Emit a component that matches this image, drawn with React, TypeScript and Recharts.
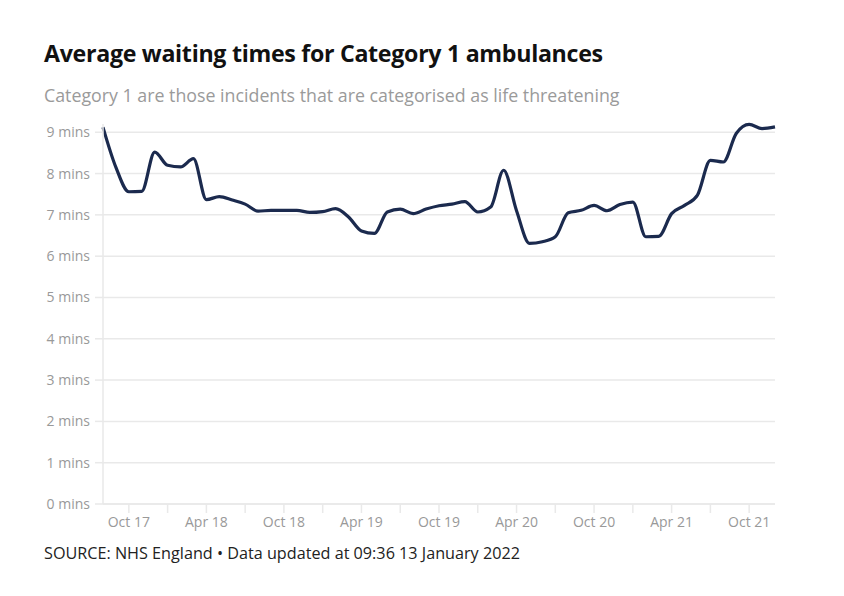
import React from "react";
import { Line, LineChart, ReferenceLine, XAxis, YAxis } from "recharts";

// monthly series, Aug 2017 to Dec 2021
const months = [
  "Aug 17", "Sep 17", "Oct 17", "Nov 17", "Dec 17",
  "Jan 18", "Feb 18", "Mar 18", "Apr 18", "May 18", "Jun 18", "Jul 18", "Aug 18", "Sep 18", "Oct 18", "Nov 18", "Dec 18",
  "Jan 19", "Feb 19", "Mar 19", "Apr 19", "May 19", "Jun 19", "Jul 19", "Aug 19", "Sep 19", "Oct 19", "Nov 19", "Dec 19",
  "Jan 20", "Feb 20", "Mar 20", "Apr 20", "May 20", "Jun 20", "Jul 20", "Aug 20", "Sep 20", "Oct 20", "Nov 20", "Dec 20",
  "Jan 21", "Feb 21", "Mar 21", "Apr 21", "May 21", "Jun 21", "Jul 21", "Aug 21", "Sep 21", "Oct 21", "Nov 21", "Dec 21",
];

const waitMins = [
  9.12, 8.15, 7.56, 7.57, 8.52,
  8.2, 8.16, 8.36, 7.37, 7.44, 7.36, 7.26, 7.09, 7.11, 7.11, 7.11, 7.06,
  7.08, 7.15, 6.95, 6.61, 6.55, 7.07, 7.14, 7.03, 7.14, 7.22, 7.26, 7.32,
  7.07, 7.19, 8.08, 7.1, 6.31, 6.35, 6.47, 7.05, 7.11, 7.23, 7.1, 7.25,
  7.31, 6.47, 6.48, 7.03, 7.23, 7.48, 8.32, 8.28, 8.97, 9.19, 9.09, 9.13,
];

// quarterly tick marks, labels only on Apr / Oct
const tickMonths = [
  "Oct 17", "Jan 18", "Apr 18", "Jul 18", "Oct 18", "Jan 19", "Apr 19", "Jul 19", "Oct 19",
  "Jan 20", "Apr 20", "Jul 20", "Oct 20", "Jan 21", "Apr 21", "Jul 21", "Oct 21",
];
const yTicks = [0, 1, 2, 3, 4, 5, 6, 7, 8, 9];

const data = months.map((m, i) => ({ i, month: m, mins: waitMins[i] }));
const tickIdx = tickMonths.map((m) => months.indexOf(m));

const FONT = "'Open Sans', 'Noto Sans', sans-serif";
const GRID = "#e9e9e9";

export default function App() {
  return (
    <div
      style={{
        position: "absolute",
        left: 0,
        top: 0,
        width: 844,
        height: 596,
        background: "#fff",
        fontFamily: FONT,
      }}
    >
      <div
        style={{
          position: "absolute",
          left: 44,
          top: 37,
          fontSize: 23.2,
          fontWeight: 700,
          color: "#111",
          letterSpacing: -0.3,
          whiteSpace: "nowrap",
        }}
      >
        Average waiting times for Category 1 ambulances
      </div>
      <div
        style={{
          position: "absolute",
          left: 44,
          top: 83,
          fontSize: 17.8,
          color: "#9a9a9a",
          whiteSpace: "nowrap",
        }}
      >
        Category 1 are those incidents that are categorised as life threatening
      </div>
      <div style={{ position: "absolute", left: 0, top: 0 }}>
        <LineChart
          width={844}
          height={596}
          data={data}
          margin={{ top: 124, right: 69, bottom: 62, left: 43 }}
        >
          {yTicks.map((t) => (
            <ReferenceLine key={t} y={t} stroke={GRID} strokeWidth={1.5} />
          ))}
          <XAxis
            type="number"
            dataKey="i"
            domain={[0, months.length - 1]}
            ticks={tickIdx}
            interval={0}
            height={30}
            tickFormatter={(v) => {
              const m = months[v] || "";
              return m.startsWith("Apr") || m.startsWith("Oct") ? m : "";
            }}
            axisLine={{ stroke: GRID, strokeWidth: 1.5 }}
            tickLine={{ stroke: GRID, strokeWidth: 1.5 }}
            tickSize={9}
            tickMargin={4}
            tick={{ fill: "#999", fontSize: 14, fontFamily: FONT }}
          />
          <YAxis
            domain={[0, 9.2]}
            ticks={yTicks}
            width={60}
            interval={0}
            tickFormatter={(v) => `${v} mins`}
            axisLine={{ stroke: GRID, strokeWidth: 1.5 }}
            tickLine={{ stroke: GRID, strokeWidth: 1.5 }}
            tickSize={8}
            tickMargin={5}
            tick={{ fill: "#999", fontSize: 14, fontFamily: FONT }}
          />
          <Line
            type="monotone"
            dataKey="mins"
            stroke="#1b2a4e"
            strokeWidth={3.2}
            dot={false}
            isAnimationActive={false}
          />
        </LineChart>
      </div>
      <div
        style={{
          position: "absolute",
          left: 44,
          top: 542,
          fontSize: 16.2,
          color: "#222",
          whiteSpace: "nowrap",
        }}
      >
        SOURCE: NHS England • Data updated at 09:36 13 January 2022
      </div>
    </div>
  );
}
